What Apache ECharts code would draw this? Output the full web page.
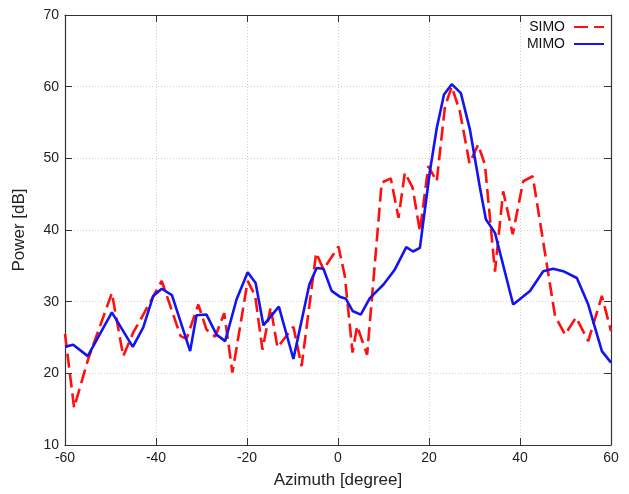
<!DOCTYPE html>
<html><head><meta charset="utf-8">
<script src="https://cdn.jsdelivr.net/npm/echarts@6/dist/echarts.min.js"></script>
<style>html,body{margin:0;padding:0;background:#fff}#c{width:629px;height:494px}</style>
</head><body><div id="c"></div>
<script>
const xTicks = [-60, -40, -20, 0, 20, 40, 60];
const yTicks = [10, 20, 30, 40, 50, 60, 70];

const simoAz = [-60, -58, -54.9, -49.7, -47.2, -45, -42.8, -38.75, -34.6, -33.3, -30.7, -28.9, -27, -25, -23.2, -19.85, -18.2, -16.6, -14.8, -13.3, -9.8, -8, -4.8, -3.2, 0.1, 1.5, 3.2, 4.2, 6.4, 9.6, 11.6, 13.3, 14.7, 16.4, 18.0, 19.85, 21.7, 23.5, 25.0, 26.8, 28.9, 30.8, 32.3, 34.5, 36.3, 38.4, 40.7, 42.8, 47.7, 49.9, 52.3, 55.0, 58.0, 60];
const simoPow = [25.5, 15.2, 22.0, 31.2, 22.4, 25.7, 28.2, 32.9, 25.2, 24.8, 29.6, 26.1, 25.1, 28.4, 20.1, 32.9, 30.8, 23.3, 29.2, 23.6, 26.5, 21.0, 36.8, 34.5, 37.7, 33.6, 22.9, 26.6, 22.6, 46.6, 47.2, 41.7, 48.0, 45.9, 39.8, 48.9, 46.8, 57.2, 60.0, 56.5, 49.3, 51.9, 49.1, 34.2, 45.4, 39.4, 46.8, 47.5, 28.0, 25.4, 27.8, 24.5, 30.8, 25.9];

const mimoAz = [-60, -58.2, -55, -49.7, -45.1, -42.8, -40.6, -38.75, -36.5, -32.5, -31.1, -28.9, -26.7, -24.8, -22.3, -19.85, -18.1, -16.4, -13.0, -9.8, -6.3, -4.7, -3.2, -1.4, 0.4, 1.75, 3.2, 5.0, 7.0, 10.0, 12.5, 15.0, 16.5, 18.0, 20.2, 21.7, 23.3, 25.0, 27.0, 29.0, 31.2, 32.5, 34.5, 38.5, 42.2, 45.1, 47.3, 49.5, 52.5, 55.0, 58.0, 60];
const mimoPow = [23.7, 24.0, 22.4, 28.5, 23.7, 26.4, 30.8, 31.8, 30.9, 23.1, 28.1, 28.2, 25.4, 24.5, 30.3, 34.1, 32.6, 26.7, 29.3, 22.0, 32.4, 34.7, 34.6, 31.5, 30.7, 30.4, 28.7, 28.2, 30.5, 32.4, 34.5, 37.6, 37.0, 37.5, 48.2, 54.2, 58.9, 60.35, 59.1, 54.0, 45.9, 41.5, 39.6, 29.6, 31.5, 34.25, 34.6, 34.25, 33.3, 29.6, 23.1, 21.5];

const pair = (a, b) => a.map((v, i) => [v, b[i]]);
const font = 'Liberation Sans, Arial, Helvetica, sans-serif';

const chart = echarts.init(document.getElementById('c'), null, {renderer: 'canvas'});
const axisLine = {show: true, onZero: false, lineStyle: {color: '#333', width: 1.2}};
const splitLine = {show: true, lineStyle: {color: '#cfcfcf', type: [1, 2], width: 1}};
const tick = {show: true, inside: true, length: 7, lineStyle: {color: '#333'}};
chart.setOption({
  animation: false,
  backgroundColor: '#fff',
  grid: {left: 65, right: 18, top: 15, bottom: 48, containLabel: false},
  legend: {
    orient: 'vertical', right: 24, top: 20, align: 'right',
    itemWidth: 30, itemHeight: 12, itemGap: 3, padding: 0,
    itemStyle: {opacity: 0},
    textStyle: {fontFamily: font, fontSize: 14, color: '#111', padding: [0, 4, 0, 0]},
    data: ['SIMO', 'MIMO']
  },
  xAxis: [{
    type: 'value', min: -60, max: 60, interval: 20, position: 'bottom',
    name: 'Azimuth [degree]', nameLocation: 'middle', nameGap: 27,
    nameTextStyle: {fontFamily: font, fontSize: 17, color: '#222'},
    axisLine, axisTick: tick,
    axisLabel: {fontFamily: font, fontSize: 14, color: '#222', margin: 6,
      formatter: v => xTicks.includes(v) ? String(v) : ''},
    splitLine
  }, {
    type: 'value', min: -60, max: 60, interval: 20, position: 'top',
    axisLine, axisTick: tick, axisLabel: {show: false}, splitLine: {show: false}
  }],
  yAxis: [{
    type: 'value', min: 10, max: 70, interval: 10, position: 'left',
    name: 'Power [dB]', nameLocation: 'middle', nameGap: 37, nameRotate: 90,
    nameTextStyle: {fontFamily: font, fontSize: 17, color: '#222'},
    axisLine, axisTick: tick,
    axisLabel: {fontFamily: font, fontSize: 14, color: '#222', margin: 6,
      formatter: v => yTicks.includes(v) ? String(v) : ''},
    splitLine
  }, {
    type: 'value', min: 10, max: 70, interval: 10, position: 'right',
    axisLine, axisTick: tick, axisLabel: {show: false}, splitLine: {show: false}
  }],
  series: [{
    name: 'SIMO', type: 'line', data: pair(simoAz, simoPow), showSymbol: false, symbol: 'none',
    lineStyle: {color: '#ff1010', width: 2.6, type: [14, 6]}, itemStyle: {color: '#ff1010'},
    z: 2
  }, {
    name: 'MIMO', type: 'line', data: pair(mimoAz, mimoPow), showSymbol: false, symbol: 'none',
    lineStyle: {color: '#1414f0', width: 2.6}, itemStyle: {color: '#1414f0'},
    z: 3
  }]
});
</script></body></html>
